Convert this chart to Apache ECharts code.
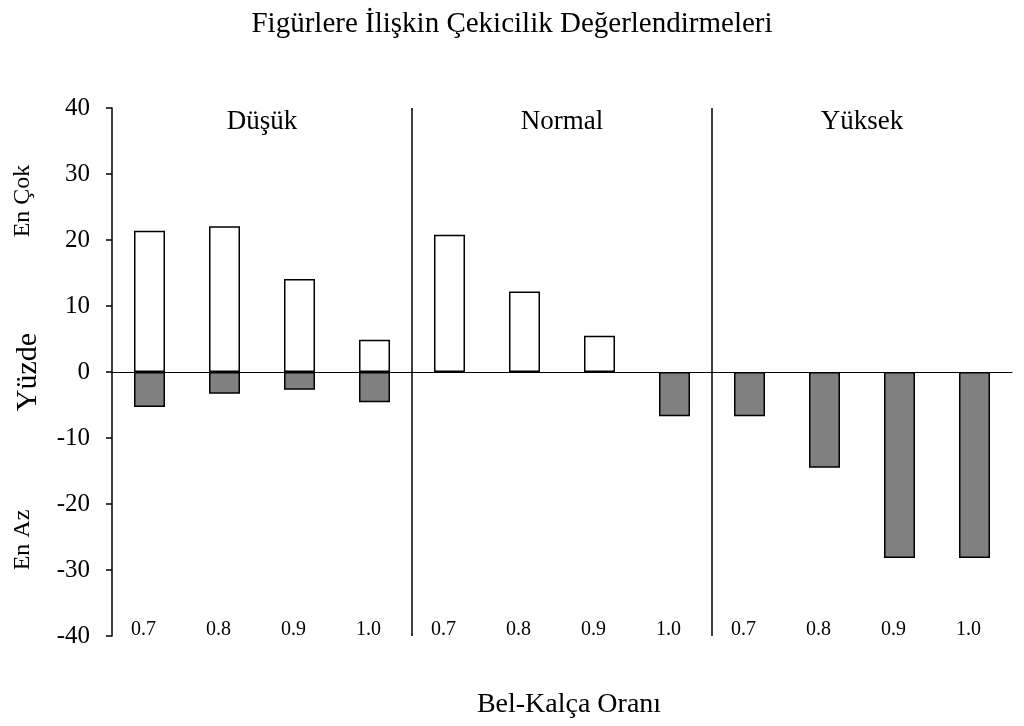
<!DOCTYPE html>
<html>
<head>
<meta charset="utf-8">
<script src="https://cdn.jsdelivr.net/npm/echarts@6/dist/echarts.min.js"></script>
<style>
  html, body { margin: 0; padding: 0; background: #fff; }
  #chart { width: 1024px; height: 726px; }
</style>
</head>
<body>
<div id="chart"></div>
<script>
  // gruplar ve bel-kalça oranları
  var groups = ['Düşük', 'Normal', 'Yüksek'];
  var ratios = ['0.7', '0.8', '0.9', '1.0'];
  var categories = [];
  groups.forEach(function (g) {
    ratios.forEach(function (r) { categories.push(g + '|' + r); });
  });

  // yüzde değerleri (en çok / en az)
  var enCok = [21.4, 22.1, 14.1, 4.9, 20.8, 12.2, 5.5, null, null, null, null, null];
  var enAz = [-5.3, -3.3, -2.7, -4.6, null, null, null, -6.7, -6.7, -14.5, -28.2, -28.2];

  // grup ayırıcı çizgilerin yeri (kategori sınırı)
  var separators = [4, 8];

  var font = 'Liberation Serif';
  var chartDom = document.getElementById('chart');
  var myChart = echarts.init(chartDom);
  var option;

  option = {
    animation: false,
    backgroundColor: '#fff',
    textStyle: { fontFamily: font, color: '#000' },
    title: {
      text: 'Figürlere İlişkin Çekicilik Değerlendirmeleri',
      left: 'center',
      top: 5,
      textStyle: { fontFamily: font, fontSize: 29, fontWeight: 'normal', color: '#000' }
    },
    grid: { left: 112, right: 12, top: 108, bottom: 90 },
    xAxis: [
      {
        type: 'category',
        data: categories,
        axisLine: { onZero: true, lineStyle: { color: '#000', width: 1 } },
        axisTick: { show: false },
        axisLabel: { show: false },
        splitLine: { show: false }
      },
      {
        type: 'category',
        data: categories,
        position: 'bottom',
        axisLine: { show: false, onZero: false },
        axisTick: { show: false },
        axisLabel: {
          inside: true,
          margin: -4,
          interval: 0,
          fontFamily: font,
          fontSize: 20,
          color: '#000',
          padding: [0, 12, 0, 0],
          formatter: function (v) { return v.split('|')[1]; }
        },
        name: 'Bel-Kalça Oranı',
        nameLocation: 'middle',
        nameGap: 55,
        nameTextStyle: { fontFamily: font, fontSize: 28, color: '#000', padding: [0, 0, 0, 14] }
      },
      {
        type: 'category',
        data: groups,
        position: 'top',
        axisLine: { show: false },
        axisTick: { show: false },
        axisLabel: { inside: true, margin: 0, fontFamily: font, fontSize: 27, color: '#000' }
      },
      {
        type: 'value',
        min: 0,
        max: categories.length,
        show: false
      }
    ],
    yAxis: {
      type: 'value',
      min: -40,
      max: 40,
      interval: 10,
      axisLine: { show: true, lineStyle: { color: '#000', width: 1.5 } },
      axisTick: { show: true, length: 6, lineStyle: { color: '#000', width: 1.5 } },
      axisLabel: { fontFamily: font, fontSize: 25, color: '#000', margin: 22 },
      splitLine: { show: false },
      name: 'Yüzde',
      nameLocation: 'middle',
      nameGap: 69,
      nameTextStyle: { fontFamily: font, fontSize: 30, color: '#000' }
    },
    graphic: [
      {
        type: 'text', x: 23, y: 201, rotation: Math.PI / 2,
        style: { text: 'En Çok', font: '24px "Liberation Serif"', fill: '#000', align: 'center', verticalAlign: 'middle' }
      },
      {
        type: 'text', x: 23, y: 540, rotation: Math.PI / 2,
        style: { text: 'En Az', font: '24px "Liberation Serif"', fill: '#000', align: 'center', verticalAlign: 'middle' }
      }
    ],
    series: [
      {
        name: 'En Çok',
        type: 'bar',
        stack: 'yuzde',
        barWidth: 31,
        data: enCok,
        itemStyle: { color: '#fff', borderColor: '#000', borderWidth: 1.5 }
      },
      {
        name: 'En Az',
        type: 'bar',
        stack: 'yuzde',
        barWidth: 31,
        data: enAz,
        itemStyle: { color: '#808080', borderColor: '#000', borderWidth: 1.5 }
      },
      {
        type: 'line',
        xAxisIndex: 3,
        data: [],
        silent: true,
        markLine: {
          silent: true,
          symbol: ['none', 'none'],
          label: { show: false },
          lineStyle: { color: '#000', width: 1.5, type: 'solid' },
          data: separators.map(function (s) { return { xAxis: s }; })
        }
      }
    ]
  };
  option && myChart.setOption(option);
</script>
</body>
</html>
